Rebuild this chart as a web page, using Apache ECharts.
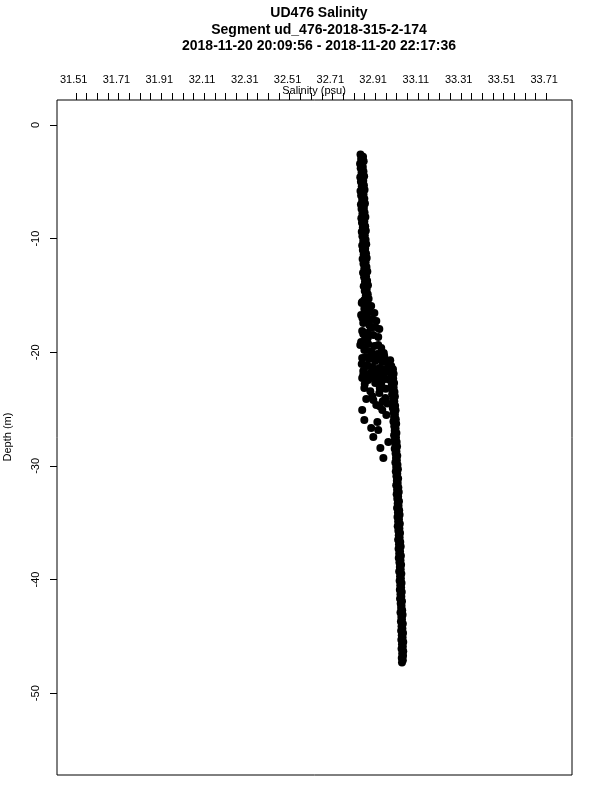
<!DOCTYPE html>
<html>
<head>
<meta charset="utf-8">
<script src="https://cdn.jsdelivr.net/npm/echarts@6/dist/echarts.min.js"></script>
<style>html,body{margin:0;padding:0;background:#fff}#c{width:600px;height:800px}</style>
</head>
<body>
<div id="c"></div>
<script>
// ---- tick labels ----
var xLabelValues = [31.51,31.71,31.91,32.11,32.31,32.51,32.71,32.91,33.11,33.31,33.51,33.71];
var xTickValues = [31.52,31.57,31.62,31.67,31.72,31.77,31.82,31.87,31.92,31.97,
  32.02,32.07,32.12,32.17,32.22,32.27,32.32,32.37,32.42,32.47,
  32.52,32.57,32.62,32.67,32.72,32.77,32.82,32.87,32.92,32.97,
  33.02,33.07,33.12,33.17,33.22,33.27,33.32,33.37,33.42,33.47,
  33.52,33.57,33.62,33.67,33.72];
var yLabelValues = [0,-10,-20,-30,-40,-50];

// ---- data: upper layer, cast A ----
var upperDepthA = [-2.6,-3.0,-3.4,-3.8,-4.2,-4.6,-5.0,-5.4,-5.8,-6.2,
  -6.6,-7.0,-7.4,-7.8,-8.2,-8.6,-9.0,-9.4,-9.8,-10.2,
  -10.6,-11.0,-11.4,-11.8,-12.2,-12.6,-13.0,-13.4,-13.8,-14.2,
  -14.6,-15.0,-15.4,-15.8];
var upperSalA = [32.851,32.854,32.849,32.852,32.856,32.850,32.853,32.857,32.851,32.854,
  32.859,32.853,32.856,32.860,32.855,32.858,32.862,32.857,32.860,32.864,
  32.859,32.862,32.866,32.861,32.865,32.869,32.863,32.868,32.872,32.866,
  32.871,32.876,32.869,32.874];
// ---- upper layer, cast B ----
var upperDepthB = [-2.8,-3.2,-3.7,-4.1,-4.5,-4.9,-5.3,-5.7,-6.1,-6.5,
  -6.9,-7.3,-7.7,-8.1,-8.5,-8.9,-9.3,-9.7,-10.1,-10.5,
  -10.9,-11.3,-11.7,-12.1,-12.5,-12.9,-13.3,-13.7,-14.1,-14.5,
  -14.9,-15.3,-15.7];
var upperSalB = [32.863,32.866,32.862,32.865,32.868,32.864,32.867,32.870,32.865,32.869,
  32.872,32.867,32.870,32.874,32.869,32.873,32.876,32.871,32.875,32.878,
  32.873,32.877,32.880,32.875,32.879,32.883,32.877,32.882,32.886,32.880,
  32.885,32.889,32.883];
// ---- mixing layer (scattered) ----
var midSal = [32.859,32.878,32.901,32.869,32.892,32.916,32.854,32.882,32.906,32.925,
  32.864,32.892,32.920,32.939,32.859,32.882,32.911,32.934,32.873,32.854,
  32.887,32.916,32.948,32.869,32.901,32.929,32.962,32.859,32.892,32.920,
  32.953,32.981,32.878,32.906,32.939,32.967,32.995,32.864,32.897,32.929,
  32.958,32.859,32.887,32.920,32.948,32.869,32.897,32.939,32.878,32.911,
  32.925,32.967,32.953,32.972,32.859,32.869,32.930,32.901,32.934,32.911,
  32.981,32.944,32.958,
  32.857,32.871,32.885,32.860,32.878,32.899,32.864,32.885,32.850,32.869,
  32.899,32.934,32.960,32.878,32.906,32.934,32.962,32.990,32.857,32.885,
  32.913,32.941,32.969,32.997,32.864,32.899,32.927,32.955,32.983,32.871,
  32.941,32.969,32.906,32.955,32.941,32.976];
var midDepth = [-15.58,-15.76,-15.93,-16.20,-16.37,-16.55,-16.73,-16.90,-17.08,-17.25,
  -17.43,-17.61,-17.78,-17.96,-18.13,-18.31,-18.49,-18.66,-18.84,-19.10,
  -19.28,-19.45,-19.63,-19.81,-19.98,-20.16,-20.33,-20.51,-20.60,-20.77,
  -20.86,-20.95,-21.13,-21.30,-21.39,-21.48,-21.21,-21.65,-21.83,-21.92,
  -22.10,-22.27,-22.45,-22.71,-22.89,-23.15,-23.42,-23.59,-24.12,-24.21,
  -24.65,-24.03,-25.09,-25.53,-25.09,-25.97,-26.14,-26.67,-26.85,-27.46,
  -27.90,-28.43,-29.31,
  -15.67,-16.02,-16.46,-16.99,-17.34,-17.87,-18.40,-18.75,-19.37,-19.55,
  -19.90,-19.37,-20.07,-20.42,-20.25,-20.60,-20.77,-20.70,-21.04,-21.21,
  -21.57,-21.65,-21.74,-21.47,-22.01,-22.18,-22.36,-22.45,-22.40,-22.80,
  -23.15,-23.20,-23.86,-24.30,-24.74,-24.50];
// ---- deep layer, cast A ----
var deepDepthA = [-21.3,-21.7,-22.1,-22.5,-22.9,-23.3,-23.7,-24.1,-24.5,-24.9,
  -25.3,-25.7,-26.1,-26.5,-26.9,-27.3,-27.7,-28.1,-28.5,-28.9,
  -29.3,-29.7,-30.1,-30.5,-30.9,-31.3,-31.7,-32.1,-32.5,-32.9,
  -33.3,-33.7,-34.1,-34.5,-34.9,-35.3,-35.7,-36.1,-36.5,-36.9,
  -37.3,-37.7,-38.1,-38.5,-38.9,-39.3,-39.7,-40.1,-40.5,-40.9,
  -41.3,-41.7,-42.1,-42.5,-42.9,-43.3,-43.7,-44.1,-44.5,-44.9,
  -45.3,-45.7,-46.1,-46.5,-46.9,-47.3];
var deepSalA = [32.991,32.996,32.994,32.999,32.997,33.001,32.999,33.003,33.005,33.002,
  33.006,33.008,33.005,33.009,33.011,33.008,33.012,33.014,33.011,33.015,
  33.017,33.014,33.018,33.016,33.019,33.021,33.018,33.022,33.020,33.023,
  33.025,33.022,33.026,33.024,33.027,33.025,33.028,33.030,33.027,33.031,
  33.029,33.032,33.030,33.033,33.035,33.032,33.036,33.034,33.037,33.035,
  33.038,33.036,33.039,33.041,33.038,33.042,33.040,33.043,33.041,33.044,
  33.042,33.045,33.043,33.046,33.044,33.045];
// ---- deep layer, cast B ----
var deepDepthB = [-21.5,-21.9,-22.3,-22.7,-23.1,-23.5,-23.9,-24.3,-24.7,-25.1,
  -25.5,-25.9,-26.3,-26.7,-27.1,-27.5,-27.9,-28.3,-28.7,-29.1,
  -29.5,-29.9,-30.3,-30.7,-31.1,-31.5,-31.9,-32.3,-32.7,-33.1,
  -33.5,-33.9,-34.3,-34.7,-35.1,-35.5,-35.9,-36.3,-36.7,-37.1,
  -37.5,-37.9,-38.3,-38.7,-39.1,-39.5,-39.9,-40.3,-40.7,-41.1,
  -41.5,-41.9,-42.3,-42.7,-43.1,-43.5,-43.9,-44.3,-44.7,-45.1,
  -45.5,-45.9,-46.3,-46.7,-47.1];
var deepSalB = [33.003,33.006,33.004,33.008,33.006,33.010,33.012,33.009,33.013,33.015,
  33.012,33.016,33.018,33.015,33.019,33.017,33.020,33.022,33.019,33.023,
  33.021,33.024,33.026,33.023,33.027,33.025,33.028,33.030,33.027,33.031,
  33.029,33.032,33.034,33.031,33.035,33.033,33.036,33.034,33.037,33.039,
  33.036,33.040,33.038,33.041,33.039,33.042,33.040,33.043,33.041,33.044,
  33.042,33.045,33.043,33.046,33.048,33.045,33.049,33.047,33.050,33.048,
  33.051,33.049,33.051,33.050,33.049];

function zip(s, d) {
  var out = [];
  var n = Math.min(s.length, d.length);
  for (var i = 0; i < n; i++) out.push([s[i], d[i]]);
  return out;
}
var points = [].concat(
  zip(upperSalA, upperDepthA), zip(upperSalB, upperDepthB),
  zip(midSal, midDepth),
  zip(deepSalA, deepDepthA), zip(deepSalB, deepDepthB)
);

var FONT = 'Liberation Sans';
var chart = echarts.init(document.getElementById('c'), null, {renderer: 'canvas'});
chart.setOption({
  backgroundColor: '#fff',
  animation: false,
  title: {
    text: 'UD476 Salinity\nSegment ud_476-2018-315-2-174\n2018-11-20 20:09:56 - 2018-11-20 22:17:36',
    left: 314, top: 0, textAlign: 'center',
    textStyle: {fontFamily: FONT, fontSize: 14, fontWeight: 'bold', color: '#000', lineHeight: 16.5}
  },
  graphic: [
    {type: 'text', x: 314, y: 91, silent: true,
      style: {text: 'Salinity (psu)', font: '11px "Liberation Sans"', fill: '#000', align: 'center', verticalAlign: 'middle'}},
    {type: 'text', x: 8, y: 437, rotation: Math.PI / 2, silent: true,
      style: {text: 'Depth (m)', font: '11px "Liberation Sans"', fill: '#000', align: 'center', verticalAlign: 'middle'}}
  ],
  grid: {left: 57, right: 28, top: 100, bottom: 25, containLabel: false, outerBoundsMode: 'none',
    show: true, borderColor: '#000', borderWidth: 1, backgroundColor: 'transparent'},
  xAxis: {
    type: 'value', position: 'top', min: 31.432, max: 33.840,
    axisLine: {show: false, onZero: false},
    splitLine: {show: false},
    axisTick: {show: true, inside: false, length: 7, lineStyle: {color: '#000'}, customValues: xTickValues},
    axisLabel: {fontFamily: FONT, fontSize: 11, color: '#000', margin: 15, customValues: xLabelValues,
      formatter: function (v) { return v.toFixed(2); }}
  },
  yAxis: {
    type: 'value', min: -57.2, max: 2.2,
    axisLine: {show: false, onZero: false},
    splitLine: {show: false},
    axisTick: {show: true, inside: false, length: 7, lineStyle: {color: '#000'}, customValues: yLabelValues},
    axisLabel: {fontFamily: FONT, fontSize: 11, color: '#000', margin: 16, rotate: 90, customValues: yLabelValues}
  },
  series: [{
    type: 'scatter', data: points, symbol: 'circle', symbolSize: 8,
    itemStyle: {color: '#000', opacity: 1}, silent: true
  }]
});
</script>
</body>
</html>
